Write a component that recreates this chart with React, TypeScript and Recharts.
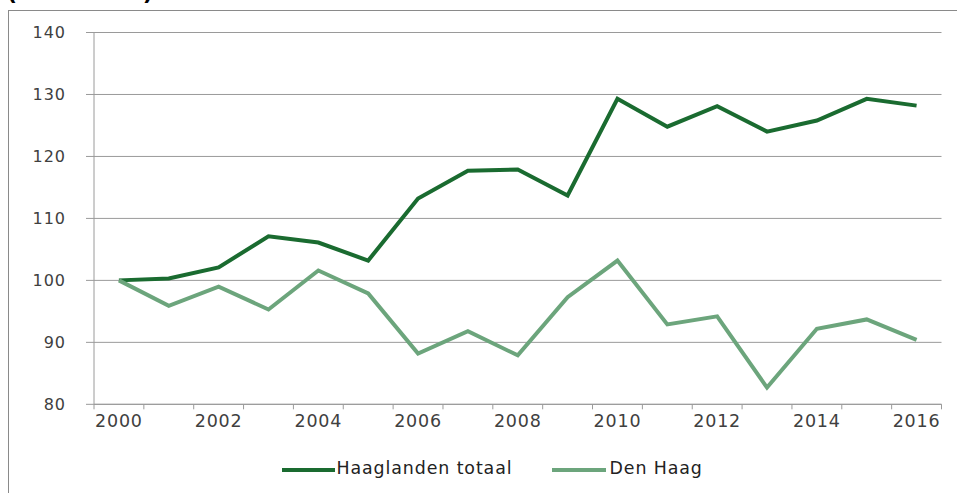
import React from "react";
import { LineChart, Line, XAxis, YAxis, CartesianGrid, Legend } from "recharts";

const years = [2000, 2001, 2002, 2003, 2004, 2005, 2006, 2007, 2008, 2009, 2010, 2011, 2012, 2013, 2014, 2015, 2016];
const haaglanden = [100, 100.3, 102.1, 107.1, 106.1, 103.2, 113.2, 117.7, 117.9, 113.7, 129.3, 124.8, 128.1, 124.0, 125.8, 129.3, 128.2];
const denHaag = [100, 95.9, 99.0, 95.3, 101.6, 97.9, 88.2, 91.8, 87.9, 97.3, 103.2, 92.9, 94.2, 82.7, 92.2, 93.7, 90.4];
const yTicks = [80, 90, 100, 110, 120, 130, 140];
const seriesNames = ["Haaglanden totaal", "Den Haag"];
const titleText = "(2000=100)";

const DARK = "#1a6b30";
const LIGHT = "#6ca57c";
const GRID = "#9a9a9a";
const FONT = "'DejaVu Sans', sans-serif";

const data = years.map((y, i) => ({ idx: i, year: y, haaglanden: haaglanden[i], denHaag: denHaag[i] }));

const xTicks: number[] = [];
for (let i = 0; i <= years.length; i++) {
  xTicks.push(i - 0.5);
  if (i < years.length && i % 2 === 0) xTicks.push(i);
}

const XTick = (props: any) => {
  const { x, y, payload } = props;
  const v = payload.value;
  if (Math.abs(v - Math.round(v)) > 0.1) {
    return <line x1={x} x2={x} y1={y} y2={y + 5} stroke={GRID} strokeWidth={1} />;
  }
  return (
    <text x={x} y={y + 22.4} textAnchor="middle" fill="#404040" fontFamily={FONT} fontSize={17.5} letterSpacing={0.8}>
      {years[v]}
    </text>
  );
};

const LegendContent = () => (
  <div style={{ height: 38.7, position: "relative", fontFamily: FONT, fontSize: 17.4, letterSpacing: 0.9, color: "#222" }}>
    <div style={{ position: "absolute", left: 282, top: 14, width: 53, height: 4, background: DARK }} />
    <div style={{ position: "absolute", left: 336.5, top: 4, lineHeight: "20px" }}>{seriesNames[0]}</div>
    <div style={{ position: "absolute", left: 552, top: 14, width: 54, height: 4, background: LIGHT }} />
    <div style={{ position: "absolute", left: 609.5, top: 4, lineHeight: "20px" }}>{seriesNames[1]}</div>
  </div>
);

export default function App() {
  return (
    <div style={{ position: "absolute", left: 0, top: 0, width: 957, height: 493, overflow: "hidden", background: "#fff" }}>
      <div style={{ position: "absolute", left: 8, top: 10, width: 1200, height: 800, border: "1px solid #8a8a8a" }} />
      <svg style={{ position: "absolute", left: 0, top: 0 }} width={400} height={20}>
        <text x={7} y={-0.5} fontFamily={FONT} fontWeight="bold" fontSize={22} fill="#000">{titleText}</text>
      </svg>
      <div style={{ position: "absolute", left: 0, top: 0 }}>
        <LineChart width={957} height={493} data={data} margin={{ top: 32.5, right: 15.5, left: 0, bottom: 0 }}>
          <CartesianGrid horizontal vertical={false} stroke={GRID} strokeWidth={1} />
          <XAxis
            dataKey="idx"
            type="number"
            domain={[-0.5, years.length - 0.5]}
            ticks={xTicks}
            interval={0}
            height={50}
            tickSize={0}
            tickMargin={0}
            tickLine={false}
            axisLine={{ stroke: GRID, strokeWidth: 1 }}
            tick={<XTick />}
            allowDecimals
          />
          <YAxis
            domain={[80, 140]}
            ticks={yTicks}
            width={94}
            tickSize={8}
            tickMargin={20}
            axisLine={{ stroke: GRID, strokeWidth: 1 }}
            tickLine={{ stroke: GRID, strokeWidth: 1 }}
            tick={{ fill: "#404040", fontFamily: FONT, fontSize: 16, letterSpacing: 1 }}
          />
          <Legend verticalAlign="bottom" content={<LegendContent />} />
          <Line type="linear" dataKey="haaglanden" name={seriesNames[0]} stroke={DARK} strokeWidth={4} dot={false} isAnimationActive={false} />
          <Line type="linear" dataKey="denHaag" name={seriesNames[1]} stroke={LIGHT} strokeWidth={4} dot={false} isAnimationActive={false} />
        </LineChart>
      </div>
    </div>
  );
}
